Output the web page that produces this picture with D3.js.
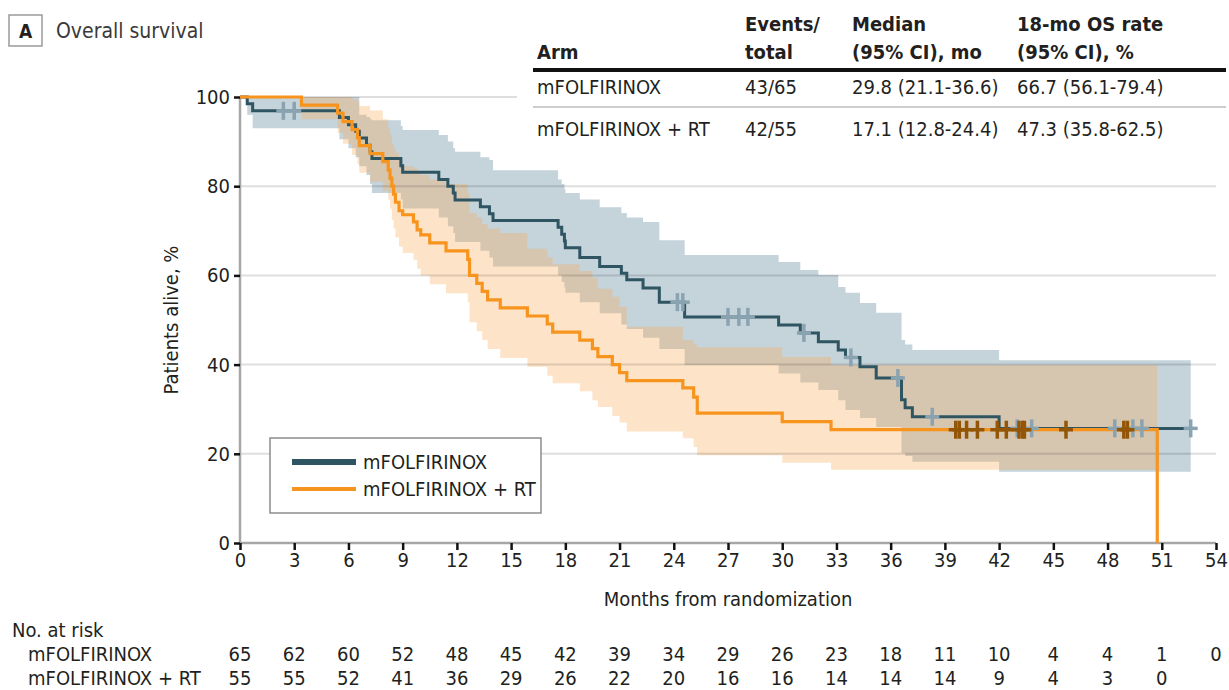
<!DOCTYPE html>
<html>
<head>
<meta charset="utf-8">
<script src="https://cdn.jsdelivr.net/npm/d3@7"></script>
<style>
  body { margin: 0; background: #fff; }
  svg { display: block; font-family: "Liberation Sans Narrow", "DejaVu Sans Condensed", sans-serif; }
</style>
</head>
<body>
<svg></svg>
<script>
// mFOLFIRINOX arm: step start times (months), survival %, 95% CI
var tealTime = [0, 0.4, 0.7, 5.5, 6.0, 6.4, 6.6, 7.0, 7.2, 7.3, 8.9, 9.0, 11.0, 11.5, 11.8, 11.9, 13.3, 13.8, 14.0, 17.6, 17.8, 17.95, 18.0, 18.8, 19.9, 21.1, 21.4, 22.3, 23.2, 24.6, 29.8, 31.0, 32.0, 33.1, 33.5, 34.3, 35.2, 36.6, 36.8, 37.2, 42.0];
var tealSurv = [100, 98.5, 96.9, 95.4, 93.8, 92.3, 90.8, 89.2, 87.7, 86.2, 84.6, 83.1, 81.5, 80.0, 78.5, 76.9, 75.4, 73.8, 72.3, 70.8, 69.2, 67.7, 66.2, 64.0, 62.0, 60.5, 59.0, 57.2, 54.0, 50.7, 48.9, 47.1, 45.1, 43.3, 41.6, 39.5, 37.0, 32.1, 30.3, 28.3, 25.7];
var tealLow  = [100, 96, 93, 90.5, 88.5, 86.5, 84.5, 82.5, 80.5, 78.5, 77, 75, 73, 71, 69.5, 67.5, 65.5, 64, 62, 60, 58.5, 57.3, 56.1, 54, 51.5, 49, 48, 46, 43.5, 39.9, 38, 36, 34.3, 32, 29.8, 28, 26, 20.2, 19.5, 18.2, 16];
var tealHigh = [100, 100, 100, 100, 100, 100, 96, 95.5, 95, 94.8, 93.5, 92.6, 91.5, 90, 88.5, 87.7, 86.5, 85.9, 83.6, 81.5, 80.5, 79.4, 78.5, 77, 75.3, 74, 73, 72, 67.9, 64.6, 63, 61.2, 60.1, 57.4, 56.1, 53.8, 51.6, 45.5, 44.5, 43.3, 41];
var tealEnd = 52.6;
var tealCensor = [2.4, 3.0, 24.2, 24.5, 27.0, 27.6, 28.1, 31.2, 33.8, 36.4, 38.3, 43.0, 43.8, 48.4, 49.4, 49.9, 52.6];

// mFOLFIRINOX + RT arm
var orTime = [0, 3.4, 5.4, 5.7, 6.2, 6.5, 6.6, 7.2, 7.9, 8.2, 8.3, 8.4, 8.5, 8.6, 8.8, 9.0, 9.6, 9.8, 10.0, 10.5, 11.4, 12.6, 12.7, 13.1, 13.4, 13.7, 14.4, 15.9, 17.0, 17.3, 18.8, 19.5, 19.8, 20.6, 21.0, 21.4, 24.5, 25.1, 25.3, 30.0, 32.7, 50.75];
var orSurv = [100, 98.2, 96.4, 94.5, 92.7, 90.9, 89.1, 87.3, 85.5, 83.6, 81.8, 80.0, 78.2, 76.4, 74.5, 73.6, 72.0, 70.2, 69.1, 67.3, 65.5, 63.6, 60.0, 58.2, 56.4, 54.5, 52.7, 50.9, 49.1, 47.3, 45.5, 43.6, 41.8, 40.0, 38.2, 36.4, 34.8, 32.7, 29.1, 27.2, 25.4, 0];
var orLow  = [100, 95, 92, 89.5, 87, 85, 83, 81, 79, 77, 75, 72.5, 70.5, 68.5, 66.5, 65, 63.5, 61.5, 60, 58, 56, 54, 49.5, 47.5, 45.5, 43.5, 41.5, 39.5, 37.5, 35.8, 34, 32, 30.5, 28.5, 27, 25, 23.5, 21.5, 19.7, 18, 16.4, 16.4];
var orHigh = [100, 100, 100, 100, 99.5, 99, 98, 97, 95, 93, 91.5, 89.5, 88.5, 87.5, 86, 84.5, 84, 83.2, 82.5, 81.5, 80.5, 78.5, 74, 73, 71.5, 70.5, 69.5, 66, 64, 62.5, 61, 59.5, 57, 55.2, 52.9, 48.5, 45.5, 44.5, 43.9, 41.7, 39.9, 39.9];
var orCensor = [39.6, 39.8, 40.2, 40.8, 41.9, 42.4, 43.1, 43.3, 43.4, 45.7, 48.9, 49.1];

var xTicks = [0, 3, 6, 9, 12, 15, 18, 21, 24, 27, 30, 33, 36, 39, 42, 45, 48, 51, 54];
var yTicks = [0, 20, 40, 60, 80, 100];
var atRiskA = [65, 62, 60, 52, 48, 45, 42, 39, 34, 29, 26, 23, 18, 11, 10, 4, 4, 1, 0];
var atRiskB = [55, 55, 52, 41, 36, 29, 26, 22, 20, 16, 16, 14, 14, 14, 9, 4, 3, 0];

var arms = ["mFOLFIRINOX", "mFOLFIRINOX + RT"];
var colHeads = [["Arm"], ["Events/", "total"], ["Median", "(95% CI), mo"], ["18-mo OS rate", "(95% CI), %"]];
var eventsTotal = ["43/65", "42/55"];
var medians = ["29.8 (21.1-36.6)", "17.1 (12.8-24.4)"];
var osRates = ["66.7 (56.1-79.4)", "47.3 (35.8-62.5)"];

const width = 1229, height = 690;
const tealCol = "#2e5561", orCol = "#f7941d", txt = "#231f20";

const svg = d3.select("svg").attr("width", width).attr("height", height);

const x = d3.scaleLinear().domain([0, 54]).range([240, 1216]);
const y = d3.scaleLinear().domain([0, 100]).range([543, 97]);

function rows(t, s, lo, hi, end) {
  var r = t.map((d, i) => ({t: d, s: s[i], lo: lo[i], hi: hi[i]}));
  if (end != null) {
    var last = r[r.length - 1];
    r.push({t: end, s: last.s, lo: last.lo, hi: last.hi});
  }
  return r;
}
var tealData = rows(tealTime, tealSurv, tealLow, tealHigh, tealEnd);
var orData = rows(orTime, orSurv, orLow, orHigh, null);

const band = d3.area().curve(d3.curveStepAfter)
  .x(d => x(d.t)).y0(d => y(d.lo)).y1(d => y(d.hi));
const line = d3.line().curve(d3.curveStepAfter)
  .x(d => x(d.t)).y(d => y(d.s));

// CI bands
svg.append("path").attr("d", band(tealData)).attr("fill", "#c5d3db");
svg.append("path").attr("d", band(orData.slice(0, -1).concat([{t: 50.75, lo: 16.4, hi: 39.9}])))
  .attr("fill", "#f8ad58").attr("fill-opacity", 0.33);

// grid
svg.append("g").selectAll("line").data(yTicks.filter(d => d > 0)).join("line")
  .attr("x1", x(0)).attr("x2", d => d === 100 ? 517 : x(54))
  .attr("y1", d => y(d)).attr("y2", d => y(d))
  .attr("stroke", "#000").attr("stroke-opacity", 0.13).attr("stroke-width", 2);

// axes
const xAxis = d3.axisBottom(x).tickValues(xTicks).tickSize(7).tickPadding(3);
const yAxis = d3.axisLeft(y).tickValues(yTicks).tickSize(6).tickPadding(4);

const gx = svg.append("g").attr("transform", `translate(0,${y(0)})`).call(xAxis);
const gy = svg.append("g").attr("transform", `translate(${x(0)},0)`).call(yAxis);
[gx, gy].forEach(g => {
  g.select(".domain").attr("stroke", "#a6a6a6").attr("stroke-width", 2.5);
  g.selectAll(".tick line").attr("stroke", "#111").attr("stroke-width", 2.5);
  g.selectAll(".tick text").attr("fill", txt).attr("font-size", 20)
    .attr("font-family", "Liberation Sans Narrow, DejaVu Sans Condensed, sans-serif");
});
gx.select(".domain").attr("d", `M${x(0)},0H${x(54)}`);
gy.select(".domain").attr("d", `M0,${y(100)}V${y(0)}`);

// survival curves
svg.append("path").attr("d", line(tealData)).attr("fill", "none")
  .attr("stroke", tealCol).attr("stroke-width", 3);
svg.append("path").attr("d", line(orData)).attr("fill", "none")
  .attr("stroke", orCol).attr("stroke-width", 3.2);

function survAt(t, times, surv) {
  var i = d3.bisectRight(times, t) - 1;
  return surv[Math.max(0, i)];
}
function marks(list, times, surv, col) {
  var g = svg.append("g").attr("stroke", col).attr("stroke-width", 3.5);
  list.forEach(t => {
    var cx = x(t), cy = y(survAt(t, times, surv));
    g.append("line").attr("x1", cx).attr("x2", cx).attr("y1", cy - 9).attr("y2", cy + 9);
    g.append("line").attr("x1", cx - 7).attr("x2", cx + 7).attr("y1", cy).attr("y2", cy);
  });
}
marks(tealCensor, tealTime, tealSurv, "#8aa3b0");
marks(orCensor, orTime, orSurv, "#935606");

// axis titles
svg.append("text").attr("x", x(27)).attr("y", 606).attr("text-anchor", "middle")
  .attr("font-size", 20).attr("fill", txt).text("Months from randomization");
svg.append("text").attr("transform", `translate(178,${y(50)}) rotate(-90)`)
  .attr("text-anchor", "middle").attr("font-size", 20).attr("fill", txt).text("Patients alive, %");

// panel title
svg.append("rect").attr("x", 9).attr("y", 15).attr("width", 33).attr("height", 31)
  .attr("fill", "#fff").attr("stroke", "#9a9a9a").attr("stroke-width", 1.5);
svg.append("text").attr("x", 25.5).attr("y", 38).attr("text-anchor", "middle")
  .attr("font-size", 19).attr("font-weight", "bold").attr("fill", txt).text("A");
svg.append("text").attr("x", 56).attr("y", 38).attr("font-size", 21).attr("fill", "#3a3a3a").text("Overall survival");

// legend
const lg = svg.append("g");
lg.append("rect").attr("x", 270).attr("y", 438).attr("width", 271).attr("height", 75)
  .attr("fill", "#fff").attr("stroke", "#8c8c8c").attr("stroke-width", 1.5);
[[tealCol, 6], [orCol, 4]].forEach((d, i) => {
  var ly = 462 + i * 27;
  lg.append("line").attr("x1", 292).attr("x2", 356).attr("y1", ly).attr("y2", ly)
    .attr("stroke", d[0]).attr("stroke-width", d[1]);
  lg.append("text").attr("x", 363).attr("y", ly + 7).attr("font-size", 20).attr("fill", txt).text(arms[i]);
});

// summary table
const colX = [537, 745, 852, 1017];
const tb = svg.append("g").attr("fill", txt).attr("font-size", 20);
colHeads.forEach((lines, c) => {
  lines.forEach((s, k) => {
    var yy = lines.length === 1 ? 59 : 31 + k * 28;
    tb.append("text").attr("x", colX[c]).attr("y", yy).attr("font-weight", "bold").text(s);
  });
});
tb.append("line").attr("x1", 533).attr("x2", 1226).attr("y1", 70).attr("y2", 70)
  .attr("stroke", "#111").attr("stroke-width", 4);
tb.append("line").attr("x1", 533).attr("x2", 1226).attr("y1", 107).attr("y2", 107)
  .attr("stroke", "#bdbdbd").attr("stroke-width", 1.5);
arms.forEach((a, r) => {
  var yy = 94 + r * 42;
  [a, eventsTotal[r], medians[r], osRates[r]].forEach((s, c) => {
    tb.append("text").attr("x", colX[c]).attr("y", yy).text(s);
  });
});

// number at risk
const rk = svg.append("g").attr("fill", txt).attr("font-size", 20);
rk.append("text").attr("x", 12).attr("y", 637).text("No. at risk");
[atRiskA, atRiskB].forEach((vals, r) => {
  var yy = 661 + r * 24;
  rk.append("text").attr("x", 28).attr("y", yy).text(arms[r]);
  rk.selectAll(null).data(vals).join("text")
    .attr("x", (d, i) => x(xTicks[i])).attr("y", yy).attr("text-anchor", "middle").text(d => d);
});
</script>
</body>
</html>
